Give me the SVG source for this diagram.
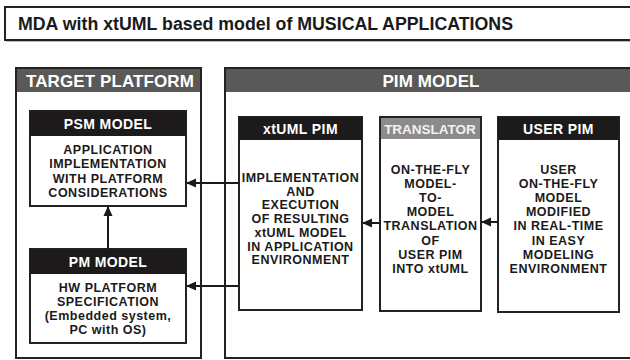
<svg xmlns="http://www.w3.org/2000/svg" width="630" height="360" viewBox="0 0 630 360">
<defs>
<marker id="ah" markerWidth="10" markerHeight="10" refX="9" refY="5" orient="auto" markerUnits="userSpaceOnUse">
<path d="M0,0.5 L10,5 L0,9.5 Z" fill="#1a1a1a"/>
</marker>
<style>
text{font-family:"Liberation Sans",Arial,sans-serif;font-weight:bold;text-anchor:middle}
.box{fill:#fff;stroke:#222;stroke-width:2}
.outer{fill:#fff;stroke:#222;stroke-width:2}
.hdr{fill:#1c1a1a}
.ohdr{fill:#5b5858}
.htxt{font-size:14px;fill:#fff;letter-spacing:0.4px}
.otxt{font-size:17px;fill:#fff;letter-spacing:0.1px}
.body{font-size:12.5px;fill:#1a1a1a;letter-spacing:0.5px}
.conn{stroke:#1a1a1a;stroke-width:2;fill:none;marker-end:url(#ah)}
</style>
</defs>
<rect width="630" height="360" fill="#fff"/>
<g id="title">
<rect x="6" y="9" width="630" height="33" fill="#bbb"/>
<rect x="5" y="7" width="630" height="33" fill="#fff" stroke="#222" stroke-width="2"/>
<text x="18" y="30" textLength="495" lengthAdjust="spacingAndGlyphs" style="text-anchor:start;font-size:18px;fill:#1a1a1a">MDA with xtUML based model of MUSICAL APPLICATIONS</text>
</g>
<g id="target-platform">
<rect class="outer" x="16" y="68" width="185" height="290"/>
<rect class="ohdr" x="17" y="69" width="183" height="23"/>
<text class="otxt" x="110" y="87">TARGET PLATFORM</text>
</g>
<g id="pim-model">
<rect class="outer" x="225" y="68" width="410" height="290"/>
<rect class="ohdr" x="226" y="69" width="410" height="23"/>
<text class="otxt" x="431" y="87">PIM MODEL</text>
</g>
<g id="psm-model">
<rect class="box" x="30" y="111" width="156" height="95"/>
<rect class="hdr" x="30" y="111" width="156" height="25"/>
<text class="htxt" x="108" y="128.5">PSM MODEL</text>
<text class="body" x="108" y="154">APPLICATION</text>
<text class="body" x="108" y="168.3">IMPLEMENTATION</text>
<text class="body" x="108" y="182.6">WITH PLATFORM</text>
<text class="body" x="108" y="197">CONSIDERATIONS</text>
</g>
<g id="pm-model">
<rect class="box" x="30" y="249" width="156" height="94"/>
<rect class="hdr" x="30" y="249" width="156" height="25"/>
<text class="htxt" x="108" y="266.5">PM MODEL</text>
<text class="body" x="108" y="292">HW PLATFORM</text>
<text class="body" x="108" y="306">SPECIFICATION</text>
<text class="body" x="108" y="320">(Embedded system,</text>
<text class="body" x="108" y="334">PC with OS)</text>
</g>
<g id="xtuml-pim">
<rect class="box" x="239" y="117" width="123" height="193"/>
<rect class="hdr" x="239" y="117" width="123" height="23"/>
<text class="htxt" x="300.5" y="133.5">xtUML PIM</text>
<text class="body" x="300.5" y="182">IMPLEMENTATION</text>
<text class="body" x="300.5" y="195.7">AND</text>
<text class="body" x="300.5" y="209.4">EXECUTION</text>
<text class="body" x="300.5" y="223.1">OF RESULTING</text>
<text class="body" x="300.5" y="236.8">xtUML MODEL</text>
<text class="body" x="300.5" y="250.5">IN APPLICATION</text>
<text class="body" x="300.5" y="264.2">ENVIRONMENT</text>
</g>
<g id="translator">
<rect class="box" x="380" y="117" width="101" height="194"/>
<rect x="381" y="118" width="99" height="21" fill="#8c8a8a"/>
<text x="430" y="133.5" style="font-size:13.5px;fill:#f2f2f2">TRANSLATOR</text>
<text class="body" x="430.5" y="174">ON-THE-FLY</text>
<text class="body" x="430.5" y="188.1">MODEL-</text>
<text class="body" x="430.5" y="202.2">TO-</text>
<text class="body" x="430.5" y="216.3">MODEL</text>
<text class="body" x="430.5" y="230.4">TRANSLATION</text>
<text class="body" x="430.5" y="244.5">OF</text>
<text class="body" x="430.5" y="258.6">USER PIM</text>
<text class="body" x="430.5" y="272.7">INTO xtUML</text>
</g>
<g id="user-pim">
<rect class="box" x="498" y="117" width="121" height="195"/>
<rect class="hdr" x="498" y="117" width="121" height="23"/>
<text class="htxt" x="558.5" y="133.5">USER PIM</text>
<text class="body" x="558.5" y="174">USER</text>
<text class="body" x="558.5" y="188.1">ON-THE-FLY</text>
<text class="body" x="558.5" y="202.2">MODEL</text>
<text class="body" x="558.5" y="216.3">MODIFIED</text>
<text class="body" x="558.5" y="230.4">IN REAL-TIME</text>
<text class="body" x="558.5" y="244.5">IN EASY</text>
<text class="body" x="558.5" y="258.6">MODELING</text>
<text class="body" x="558.5" y="272.7">ENVIRONMENT</text>
</g>
<g id="connectors">
<line class="conn" x1="239" y1="183" x2="187" y2="183"/>
<line class="conn" x1="239" y1="286" x2="187" y2="286"/>
<line class="conn" x1="108" y1="249" x2="108" y2="207"/>
<line class="conn" x1="380" y1="223" x2="363" y2="223"/>
<line class="conn" x1="498" y1="222" x2="482" y2="222"/>
</g>
</svg>
